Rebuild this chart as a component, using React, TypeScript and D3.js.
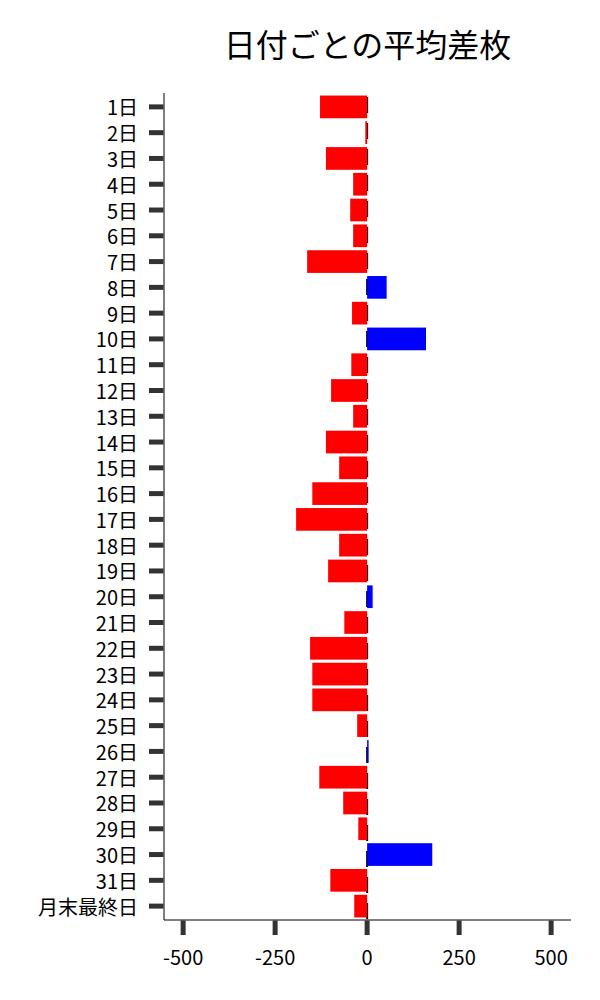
import React from "react";
import * as d3 from "d3";

const categories: string[] = [
  "1日","2日","3日","4日","5日","6日","7日","8日","9日","10日",
  "11日","12日","13日","14日","15日","16日","17日","18日","19日","20日",
  "21日","22日","23日","24日","25日","26日","27日","28日","29日","30日",
  "31日","月末最終日",
];
const values: number[] = [
  -128, -5, -112, -38, -46, -38, -163, 53, -41, 160,
  -43, -98, -38, -112, -76, -149, -193, -76, -106, 15,
  -62, -155, -149, -149, -27, 4, -130, -65, -24, 177,
  -100, -35,
];
const xTicks: number[] = [-500, -250, 0, 250, 500];
const title = "日付ごとの平均差枚";

const FONT = "'Noto Sans CJK JP', 'Noto Sans', sans-serif";

export default function App() {
  const left = 164, right = 571, top = 93, bottom = 920;
  const x = d3.scaleLinear().domain([-552, 554]).range([left, right]);
  const y = d3.scaleBand<string>().domain(categories).range([94, 919]).paddingInner(0.12).paddingOuter(0.06);
  const x0 = x(0);
  return (
    <svg width={600} height={1000} style={{ position: "absolute", left: 0, top: 0, background: "#fff" }}>
      <text x={(left + right) / 2} y={43} textAnchor="middle" dominantBaseline="central" fontFamily={FONT} fontSize={32} fill="#000">{title}</text>
      {/* zero dashed line */}
      <line x1={x0} x2={x0} y1={top} y2={bottom} stroke="#000" strokeWidth={2} strokeDasharray="16 10" strokeDashoffset={-4} />
      {/* bars */}
      {categories.map((c, i) => {
        const v = values[i];
        const x1 = x(Math.min(0, v));
        const x2 = x(Math.max(0, v));
        return (
          <rect key={c} x={x1} y={y(c)} width={Math.max(0.8, x2 - x1)} height={y.bandwidth()} fill={v >= 0 ? "#0000ff" : "#ff0000"} />
        );
      })}
      {/* spines */}
      <line x1={left} x2={left} y1={top} y2={bottom} stroke="#000" strokeWidth={1} />
      <line x1={left} x2={right} y1={bottom} y2={bottom} stroke="#000" strokeWidth={1} />
      {/* y ticks */}
      {categories.map((c) => {
        const cy = (y(c) as number) + y.bandwidth() / 2;
        return (
          <g key={c}>
            <line x1={149} x2={left - 0.5} y1={cy} y2={cy} stroke="#333" strokeWidth={5} />
            <text x={138} y={cy} textAnchor="end" dominantBaseline="central" fontFamily={FONT} fontSize={20} fill="#000">{c}</text>
          </g>
        );
      })}
      {/* x ticks */}
      {xTicks.map((t) => (
        <g key={t}>
          <line x1={x(t)} x2={x(t)} y1={bottom + 0.5} y2={bottom + 15} stroke="#333" strokeWidth={5} />
          <text x={x(t)} y={956} textAnchor="middle" dominantBaseline="central" fontFamily={FONT} fontSize={20} fill="#000">{t}</text>
        </g>
      ))}
    </svg>
  );
}
